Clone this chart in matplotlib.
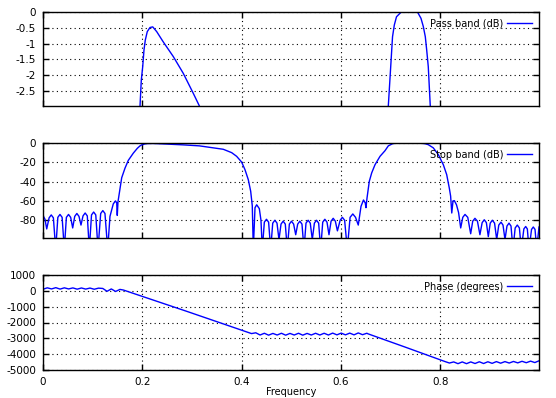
import numpy as np
import matplotlib.pyplot as plt

plt.rcParams['axes.unicode_minus'] = False
plt.rcParams['font.size'] = 7.5

# magnitude response (dB)
stop_low_f = [0.000, 0.004, 0.0075, 0.0123, 0.0166, 0.0209, 0.0256, 0.0299, 0.0342, 0.0385,
              0.0429, 0.0471, 0.0514, 0.0557, 0.0598, 0.0639, 0.0682, 0.0725, 0.0765, 0.0806,
              0.0849, 0.0892, 0.0933, 0.0977, 0.1020, 0.1063, 0.1108, 0.1162, 0.1205, 0.1248,
              0.1303, 0.1349, 0.1416, 0.1460, 0.1485, 0.1496, 0.1510]
stop_low_db = [-75, -79, -89, -77.5, -74.5, -77.5, -110, -77, -74, -77,
               -110, -77, -74, -77, -88, -76, -73, -76, -85, -75.5,
               -72.5, -75.5, -110, -74.5, -71.5, -74.5, -110, -73, -70, -73,
               -110, -76, -63, -60, -62, -75, -61]

band1_f = [0.1551, 0.1585, 0.1652, 0.1718, 0.1819, 0.1900, 0.1954, 0.1980, 0.2008, 0.2034,
           0.2060, 0.2100, 0.2155, 0.2210, 0.2290, 0.2420, 0.2625, 0.2826, 0.3027, 0.3150,
           0.3364, 0.3631, 0.3800, 0.3900, 0.4000, 0.4068, 0.4135, 0.4183, 0.4215]
band1_db = [-47, -36, -26, -18, -10.5, -5.5, -2.97, -2.15, -1.73, -1.2,
            -0.89, -0.62, -0.49, -0.47, -0.62, -0.94, -1.41, -1.94, -2.57, -2.97,
            -4.5, -6.5, -10, -13.8, -19.7, -27.6, -38, -50, -65]

stop_mid_f = [0.4236, 0.4270, 0.4304, 0.4357, 0.4390, 0.4417, 0.4458, 0.4501, 0.4544, 0.4586,
              0.4627, 0.4670, 0.4713, 0.4753, 0.4794, 0.4837, 0.4880, 0.4920, 0.4962, 0.5005,
              0.5048, 0.5090, 0.5130, 0.5173, 0.5216, 0.5257, 0.5297, 0.5340, 0.5383, 0.5424,
              0.5466, 0.5509, 0.5552, 0.5593, 0.5634, 0.5677, 0.5720, 0.5760, 0.5802, 0.5845,
              0.5888, 0.5930, 0.5985, 0.6030, 0.6075, 0.6129, 0.6185, 0.6240, 0.6295, 0.6350,
              0.6405, 0.6455, 0.6490, 0.6505]
stop_mid_db = [-110, -67, -64, -68, -80, -110, -82, -79, -82, -110,
               -83, -80, -83, -100, -84, -81, -84, -110, -84, -81,
               -84, -95, -84, -81, -84, -110, -83, -80, -83, -100,
               -83, -80, -83, -110, -82, -79, -82, -95, -81, -78,
               -81, -91, -80, -77, -80, -110, -77, -73.5, -77, -85,
               -65.6, -59, -62, -67]

band2_f = [0.6526, 0.6572, 0.6620, 0.6687, 0.6788, 0.6888, 0.6955, 0.6990, 0.7016, 0.7040,
           0.7076, 0.7120, 0.7210, 0.7290, 0.7390, 0.7470, 0.7546, 0.7613, 0.7660, 0.7700,
           0.7728, 0.7760, 0.7780, 0.7800, 0.7860, 0.7962, 0.8063, 0.8131, 0.8183, 0.8210]
band2_db = [-57, -39.7, -31, -22.5, -13.8, -8, -2.97, -2.05, -1.31, -0.78,
            -0.41, -0.15, -0.01, 0.02, 0.03, 0.02, -0.01, -0.2, -0.46, -0.78,
            -1.2, -1.73, -2.36, -2.97, -5, -12, -22.5, -32.8, -46.6, -55]

stop_high_f = [0.8233, 0.8258, 0.8285, 0.8328, 0.8370, 0.8413, 0.8455, 0.8500, 0.8555, 0.8614,
               0.8655, 0.8700, 0.8750, 0.8800, 0.8845, 0.8888, 0.8930, 0.8969, 0.9008, 0.9050,
               0.9095, 0.9138, 0.9180, 0.9225, 0.9265, 0.9305, 0.9345, 0.9386, 0.9426, 0.9466,
               0.9510, 0.9553, 0.9595, 0.9634, 0.9685, 0.9722, 0.9755, 0.9789, 0.9840, 0.9875,
               0.9910, 0.9944, 0.9990]
stop_high_db = [-72.5, -60, -59.7, -64, -72, -88, -77, -74, -77, -94,
                -81, -78, -81, -95, -82.5, -79.5, -82.5, -97, -83, -80,
                -83, -100, -85, -82, -85, -100, -86, -83, -86, -110,
                -88, -85, -88, -110, -89, -86.5, -89, -110, -89.5, -87,
                -89.5, -110, -87]

# phase (degrees)
phase_f = [0.0000, 0.0086, 0.0172, 0.0258, 0.0344, 0.0430, 0.0516, 0.0602, 0.0688, 0.0774,
           0.0860, 0.0946, 0.1032, 0.1118, 0.1204, 0.1290, 0.1376, 0.1462, 0.1550, 0.1620,
           0.2900, 0.4200, 0.4286, 0.4372, 0.4458, 0.4544, 0.4630, 0.4716, 0.4802, 0.4888,
           0.4974, 0.5060, 0.5146, 0.5232, 0.5318, 0.5404, 0.5490, 0.5576, 0.5662, 0.5748,
           0.5834, 0.5920, 0.6006, 0.6092, 0.6178, 0.6264, 0.6350, 0.6436, 0.6522, 0.6550,
           0.7300, 0.8100, 0.8186, 0.8272, 0.8358, 0.8444, 0.8530, 0.8616, 0.8702, 0.8788,
           0.8874, 0.8960, 0.9046, 0.9132, 0.9218, 0.9304, 0.9390, 0.9476, 0.9562, 0.9648,
           0.9734, 0.9820, 0.9906, 0.9990]
phase_deg = [100, 190, 120, 200, 110, 190, 120, 185, 105, 180,
             110, 175, 100, 170, 150, -30, 120, -40, 90, 50,
             -1300, -2700, -2650, -2790, -2680, -2800, -2690, -2790, -2680, -2800,
             -2690, -2790, -2680, -2800, -2690, -2790, -2680, -2790, -2680, -2790,
             -2670, -2780, -2670, -2780, -2670, -2780, -2660, -2770, -2680, -2720,
             -3560, -4470, -4560, -4490, -4600, -4490, -4600, -4490, -4590, -4480,
             -4590, -4480, -4580, -4470, -4570, -4470, -4560, -4460, -4550, -4450,
             -4540, -4440, -4530, -4420]

freq = np.array(stop_low_f + band1_f + stop_mid_f + band2_f + stop_high_f)
mag = np.array(stop_low_db + band1_db + stop_mid_db + band2_db + stop_high_db)

fig = plt.figure(figsize=(5.56, 3.98), dpi=100)
left, width = 43 / 556, 496 / 556
ax1 = fig.add_axes([left, 1 - 106 / 398, width, 94 / 398])
ax2 = fig.add_axes([left, 1 - 238 / 398, width, 95 / 398])
ax3 = fig.add_axes([left, 1 - 370 / 398, width, 95 / 398])

ax1.plot(freq, mag, color='#0000ff', lw=1.0, label='Pass band (dB)')
ax1.set_ylim(-2.97, 0)
ax1.set_yticks([0, -0.5, -1, -1.5, -2, -2.5])
ax1.set_yticklabels(['0', '-0.5', '-1', '-1.5', '-2', '-2.5'])

ax2.plot(freq, mag, color='#0000ff', lw=1.0, label='Stop band (dB)')
ax2.set_ylim(-98.4, 0)
ax2.set_yticks([0, -20, -40, -60, -80])

ax3.plot(phase_f, phase_deg, color='#0000ff', lw=1.0, label='Phase (degrees)')
ax3.set_ylim(-5000, 1000)
ax3.set_yticks([1000, 0, -1000, -2000, -3000, -4000, -5000])
ax3.set_xlabel('Frequency', labelpad=0, fontsize=7)

for ax in (ax1, ax2, ax3):
    ax.set_xlim(0, 0.999)
    ax.set_xticks([0, 0.2, 0.4, 0.6, 0.8])
    ax.grid(True, color='black', linestyle=(0, (1, 3)), linewidth=0.8)
    ax.tick_params(direction='in', top=True, right=True, length=4, width=1,
                   labelsize=7.5, pad=5)
    for s in ax.spines.values():
        s.set_linewidth(1.0)
    ax.legend(loc='upper right', frameon=False, markerfirst=False, handlelength=2.6,
              handletextpad=0.4, borderaxespad=0.3, fontsize=7)

ax1.set_xticklabels([])
ax2.set_xticklabels([])
ax3.set_xticklabels(['0', '0.2', '0.4', '0.6', '0.8'])

fig.savefig('out.png', dpi=100)
